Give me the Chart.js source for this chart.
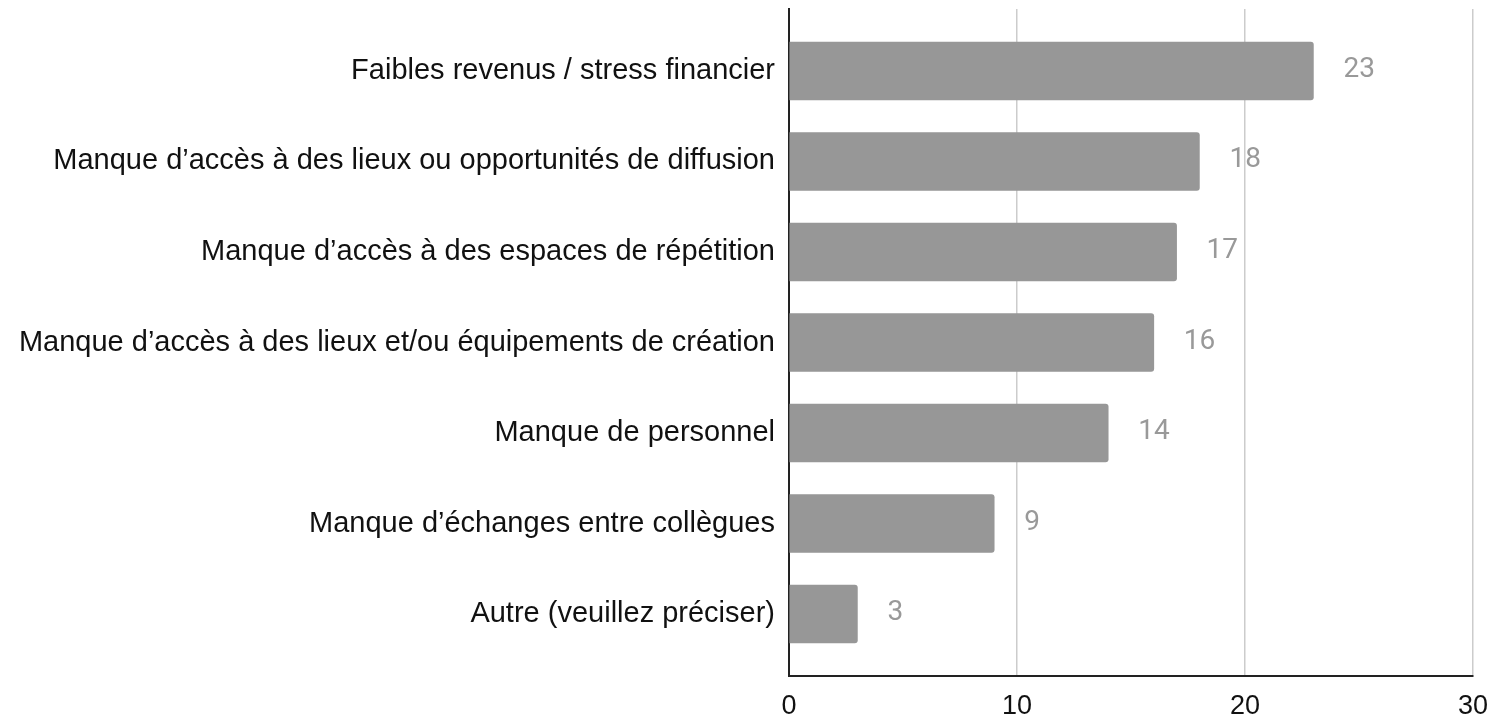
<!DOCTYPE html>
<html>
<head>
<meta charset="utf-8">
<script src="https://cdn.jsdelivr.net/npm/chart.js@4"></script>
<style>
  html, body { margin: 0; padding: 0; background: #fff; }
  #wrap { width: 1504px; height: 719px; }
</style>
</head>
<body>
<div id="wrap"><canvas id="myChart" width="1504" height="719"></canvas></div>
<script>
const categories = [
  'Faibles revenus / stress financier',
  'Manque d\u2019accès à des lieux ou opportunités de diffusion',
  'Manque d\u2019accès à des espaces de répétition',
  'Manque d\u2019accès à des lieux et/ou équipements de création',
  'Manque de personnel',
  'Manque d\u2019échanges entre collègues',
  'Autre (veuillez préciser)'
];
const counts = [23, 18, 17, 16, 14, 9, 3];
const xTicks = [0, 10, 20, 30];

// value labels to the right of each bar
const valueLabels = {
  id: 'valueLabels',
  afterDatasetsDraw(chart) {
    const ctx = chart.ctx;
    const meta = chart.getDatasetMeta(0);
    ctx.save();
    ctx.font = '28px Roboto';
    ctx.fillStyle = '#999999';
    ctx.textAlign = 'left';
    ctx.textBaseline = 'middle';
    meta.data.forEach((bar, i) => {
      ctx.fillText(String(counts[i]), bar.x + 30, bar.y - 1);
    });
    ctx.restore();
  }
};

const data = {
  datasets: [{
    label: 'Réponses',
    data: counts.map((v, i) => ({ x: v, y: i })),
    backgroundColor: '#979797',
    borderRadius: 3,
    borderSkipped: 'start',
    barThickness: 58
  }]
};

const config = {
  type: 'bar',
  data: data,
  options: {
    indexAxis: 'y',
    responsive: false,
    animation: false,
    layout: {
      padding: { top: 9, right: 31, bottom: 0, left: 0 }
    },
    plugins: {
      legend: { display: false },
      tooltip: { enabled: false }
    },
    scales: {
      x: {
        type: 'linear',
        min: 0,
        max: 30,
        afterBuildTicks: s => { s.ticks = xTicks.map(v => ({ value: v })); },
        afterFit: s => { s.height = 43; },
        grid: {
          drawTicks: false,
          color: c => (c.tick && c.tick.value === 0) ? 'rgba(0,0,0,0)' : '#cccccc',
          lineWidth: 1.5
        },
        border: { color: '#222', width: 2 },
        ticks: {
          padding: 14,
          color: '#111',
          font: { family: 'Liberation Sans', size: 27 }
        }
      },
      y: {
        type: 'linear',
        reverse: true,
        offset: false,
        min: -0.685,
        max: 6.685,
        afterBuildTicks: s => { s.ticks = categories.map((_, i) => ({ value: i })); },
        afterFit: s => { s.width = 789; s.paddingTop = 0; s.paddingBottom = 0; },
        grid: { display: false, drawTicks: false, offset: false },
        border: { color: '#222', width: 2 },
        ticks: {
          padding: 14,
          color: '#111',
          font: { family: 'Liberation Sans', size: 29 },
          callback: v => categories[v]
        }
      }
    }
  },
  plugins: [valueLabels]
};

const myChart = new Chart(document.getElementById('myChart'), config);
</script>
</body>
</html>
